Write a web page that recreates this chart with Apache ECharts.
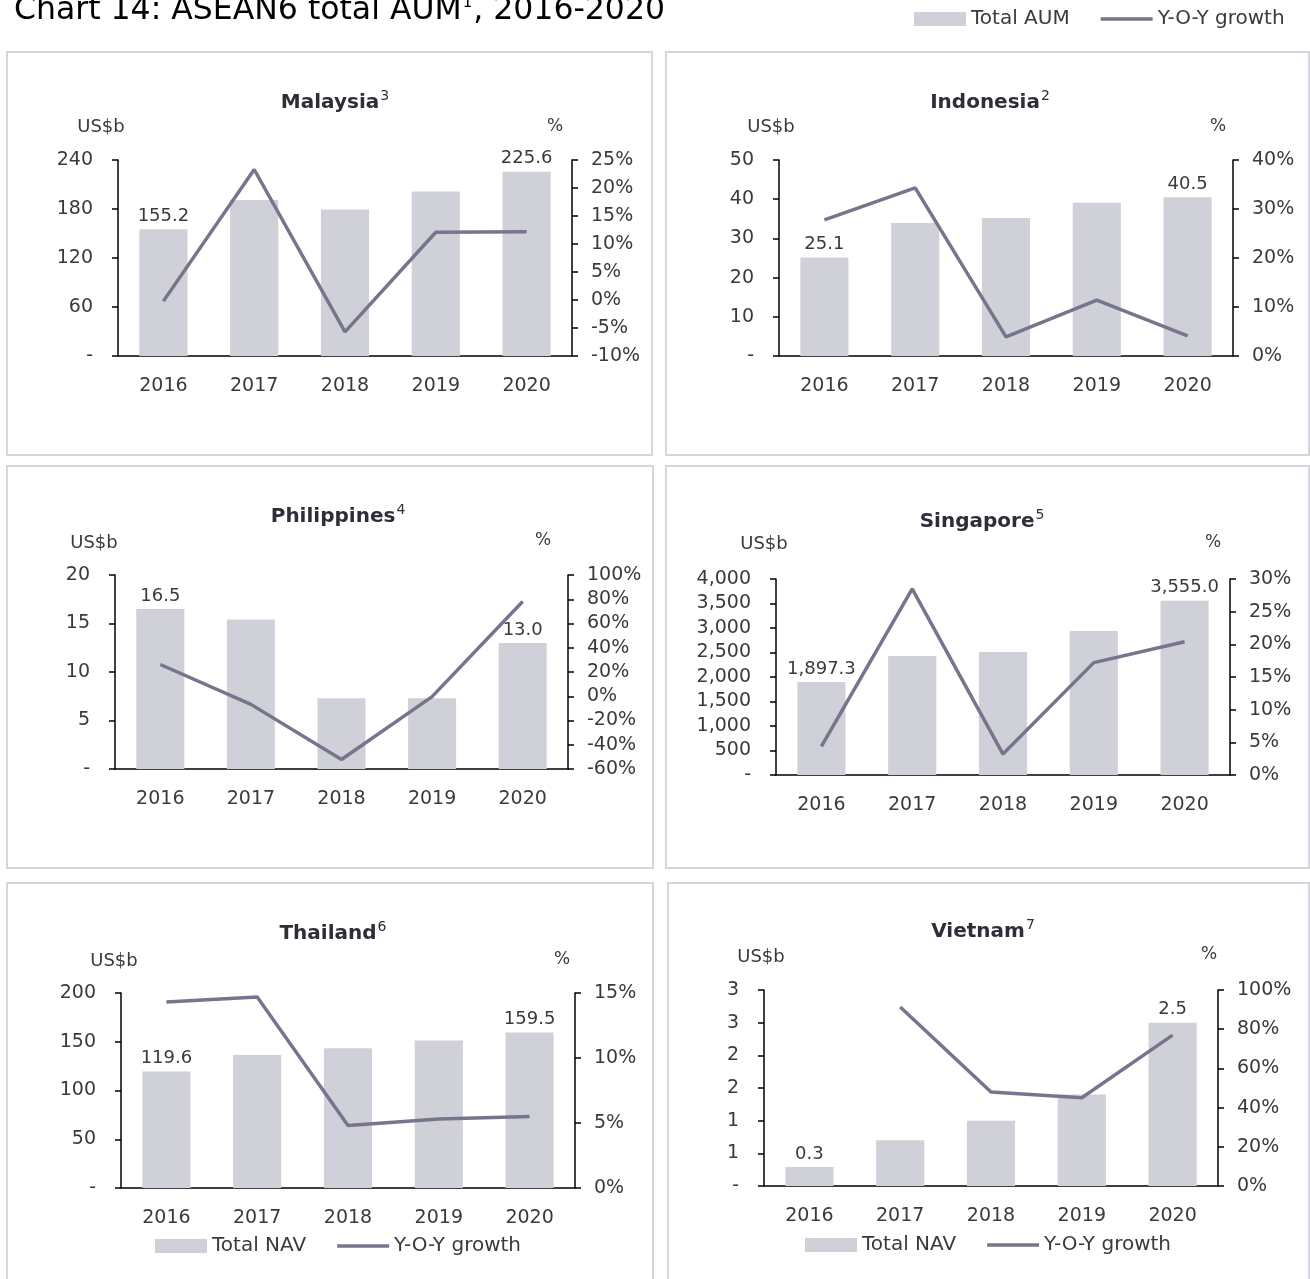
<!DOCTYPE html>
<html><head><meta charset="utf-8">
<script src="https://cdn.jsdelivr.net/npm/echarts@6/dist/echarts.min.js"></script>
<style>html,body{margin:0;padding:0;background:#fff}#c{width:1310px;height:1279px}</style>
</head><body><div id="c"></div>
<script>
// ---------- DATA ----------
const years = ['2016', '2017', '2018', '2019', '2020'];

const malaysiaAUM = [155.2, 191.0, 179.5, 201.5, 225.6];
const malaysiaGrowth = [-0.2, 23.3, -5.7, 12.1, 12.2];

const indonesiaAUM = [25.1, 33.9, 35.2, 39.1, 40.5];
const indonesiaGrowth = [27.8, 34.3, 3.9, 11.4, 4.1];

const philippinesAUM = [16.5, 15.4, 7.3, 7.3, 13.0];
const philippinesGrowth = [26.2, -6.7, -52.2, -0.3, 78.1];

const singaporeAUM = [1897.3, 2430, 2510, 2940, 3555.0];
const singaporeGrowth = [4.4, 28.5, 3.2, 17.2, 20.4];

const thailandNAV = [119.6, 136.5, 143.3, 151.2, 159.5];
const thailandGrowth = [14.3, 14.7, 4.8, 5.3, 5.5];

const vietnamNAV = [0.29, 0.7, 1.0, 1.4, 2.5];
const vietnamGrowth = [null, 91.3, 48.0, 45.0, 77.0];

const panelNames = ['Malaysia', 'Indonesia', 'Philippines', 'Singapore', 'Thailand', 'Vietnam'];
const panelNotes = ['3', '2', '4', '5', '6', '7'];
const barNames = ['Total AUM', 'Total AUM', 'Total AUM', 'Total AUM', 'Total NAV', 'Total NAV'];
const lineName = 'Y-O-Y growth';

// left axis ticks [min, max, interval], right axis ticks [min, max, interval]
const leftTicks = [[0, 240, 60], [0, 50, 10], [0, 20, 5], [0, 4000, 500], [0, 200, 50], [0, 3, 0.5]];
const rightTicks = [[-10, 25, 5], [0, 40, 10], [-60, 100, 20], [0, 30, 5], [0, 15, 5], [0, 100, 20]];

// ---------- LAYOUT ----------
const layout = [
  {box: [7, 52, 645, 403],  grid: [118, 160, 454, 196], title: [335, 101], unitL: [101, 127], unitR: [555, 127]},
  {box: [666, 52, 643, 403], grid: [779, 160, 454, 196], title: [990, 101], unitL: [771, 127], unitR: [1218, 127]},
  {box: [7, 466, 646, 402], grid: [115, 575, 453, 194], title: [338, 515], unitL: [94, 543], unitR: [543, 541]},
  {box: [666, 466, 643, 402], grid: [776, 579, 454, 196], title: [982, 520], unitL: [764, 544], unitR: [1213, 543]},
  {box: [7, 883, 646, 420], grid: [121, 993, 454, 195], title: [333, 932], unitL: [114, 961], unitR: [562, 960]},
  {box: [668, 883, 641, 420], grid: [764, 990, 454, 196], title: [983, 930], unitL: [761, 957], unitR: [1209, 955]}
];

const barSets = [malaysiaAUM, indonesiaAUM, philippinesAUM, singaporeAUM, thailandNAV, vietnamNAV];
const lineSets = [malaysiaGrowth, indonesiaGrowth, philippinesGrowth, singaporeGrowth, thailandGrowth, vietnamGrowth];

const FONT = 'DejaVu Sans';
const TXT = '#3a3a3a';
const BAR = '#d0d0d9';
const LINE = '#77758c';

function leftFmt(i) {
  return function (v) {
    if (v === 0) return '-';
    if (i === 3) return v.toLocaleString('en-US');
    if (i === 5) return String(Math.round(v));
    return String(v);
  };
}
function labelFmt(i) {
  return function (p) {
    const v = p.value;
    if (i === 3) return v.toLocaleString('en-US', {minimumFractionDigits: 1, maximumFractionDigits: 1});
    return v.toFixed(1);
  };
}

const grids = [], xAxes = [], yAxes = [], series = [], graphics = [];

layout.forEach((L, i) => {
  graphics.push({type: 'rect', shape: {x: L.box[0], y: L.box[1], width: L.box[2], height: L.box[3]},
    style: {fill: 'none', stroke: '#d6d6de', lineWidth: 2}, z: -1});
  graphics.push({type: 'text', x: L.title[0], y: L.title[1],
    style: {text: '{m|' + panelNames[i] + '}{s|' + panelNotes[i] + '}', align: 'center', verticalAlign: 'middle',
      rich: {m: {fontFamily: FONT, fontSize: 20, fontWeight: 'bold', fill: '#2e2e38', lineHeight: 24, verticalAlign: 'bottom'},
             s: {fontFamily: FONT, fontSize: 14, fill: '#2e2e38', lineHeight: 24, verticalAlign: 'top', padding: [0, 0, 8, 1]}}}});
  graphics.push({type: 'text', x: L.unitL[0], y: L.unitL[1],
    style: {text: 'US$b', align: 'center', verticalAlign: 'middle', fontFamily: FONT, fontSize: 18, fill: TXT}});
  graphics.push({type: 'text', x: L.unitR[0], y: L.unitR[1],
    style: {text: '%', align: 'center', verticalAlign: 'middle', fontFamily: FONT, fontSize: 17, fill: TXT}});

  grids.push({left: L.grid[0], top: L.grid[1], width: L.grid[2], height: L.grid[3]});
  xAxes.push({type: 'category', gridIndex: i, data: years,
    axisLine: {lineStyle: {color: '#000', width: 1.5}},
    axisTick: {alignWithLabel: true, length: 6, lineStyle: {color: '#000', width: 1.5}},
    axisLabel: {margin: 21, fontFamily: FONT, fontSize: 19, color: TXT}});
  yAxes.push({type: 'value', gridIndex: i, position: 'left',
    min: leftTicks[i][0], max: leftTicks[i][1], interval: leftTicks[i][2],
    splitLine: {show: false},
    axisLine: {show: true, lineStyle: {color: '#000', width: 1.5}},
    axisTick: {show: true, length: 6, lineStyle: {color: '#000', width: 1.5}},
    axisLabel: {margin: 25, fontFamily: FONT, fontSize: 19, color: TXT, formatter: leftFmt(i)}});
  yAxes.push({type: 'value', gridIndex: i, position: 'right',
    min: rightTicks[i][0], max: rightTicks[i][1], interval: rightTicks[i][2],
    splitLine: {show: false},
    axisLine: {show: true, lineStyle: {color: '#000', width: 1.5}},
    axisTick: {show: true, length: 6, lineStyle: {color: '#000', width: 1.5}},
    axisLabel: {margin: 19, fontFamily: FONT, fontSize: 19, color: TXT, formatter: '{value}%'}});

  const arr = barSets[i];
  series.push({type: 'bar', name: barNames[i], xAxisIndex: i, yAxisIndex: 2 * i, barWidth: '53%',
    itemStyle: {color: BAR},
    label: {position: 'top', distance: 4, fontFamily: FONT, fontSize: 18, color: TXT, formatter: labelFmt(i)},
    data: arr.map((v, k) => ({value: v, label: {show: k === 0 || k === arr.length - 1}}))});
  series.push({type: 'line', name: lineName, xAxisIndex: i, yAxisIndex: 2 * i + 1,
    symbol: 'none', connectNulls: false, itemStyle: {color: LINE},
    lineStyle: {color: LINE, width: 3.5}, z: 5, data: lineSets[i]});
});

graphics.push({type: 'text', x: 14, y: 11,
  style: {text: '{m|Chart 14: ASEAN6 total AUM}{s|1}{m|, 2016-2020}', align: 'left', verticalAlign: 'middle',
    rich: {m: {fontFamily: FONT, fontSize: 31.5, fill: '#000', lineHeight: 31, verticalAlign: 'bottom'},
           s: {fontFamily: FONT, fontSize: 15, fill: '#000', lineHeight: 31, verticalAlign: 'top', padding: [0, 1, 0, 1]}}}});

const lineIcon = 'path://M0,0H52V3.5H0Z';
const legendText = {fontFamily: FONT, fontSize: 20, color: TXT};
const legends = [
  {left: 914, top: 9, data: [{name: 'Total AUM', icon: 'rect'}, {name: lineName, icon: lineIcon}]},
  {left: 155, top: 1236, data: [{name: 'Total NAV', icon: 'rect'}, {name: lineName, icon: lineIcon}]},
  {left: 805, top: 1235, data: [{name: 'Total NAV', icon: 'rect'}, {name: lineName, icon: lineIcon}]}
].map(l => Object.assign({padding: 0, itemWidth: 52, itemHeight: 14, itemGap: 31, textStyle: legendText, selectedMode: false}, l));

const chart = echarts.init(document.getElementById('c'), null, {renderer: 'canvas'});
chart.setOption({
  animation: false,
  backgroundColor: '#fff',
  textStyle: {fontFamily: FONT},
  legend: legends,
  grid: grids, xAxis: xAxes, yAxis: yAxes, series: series,
  graphic: graphics
});
</script></body></html>
